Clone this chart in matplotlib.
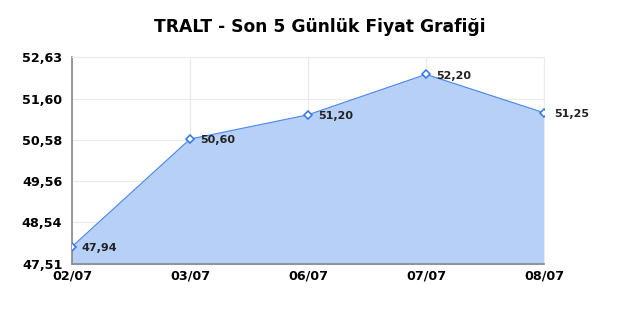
import matplotlib as mpl
mpl.use("Agg")
import matplotlib.pyplot as plt

# data
dates = ["02/07", "03/07", "06/07", "07/07", "08/07"]
prices = [47.94, 50.60, 51.20, 52.20, 51.25]
y_ticks = [47.51, 48.54, 49.56, 50.58, 51.60, 52.63]

fig = plt.figure(figsize=(6.4, 3.2), dpi=100)
ax = fig.add_axes([0.1125, 0.175, 0.7375, 0.647])

xs = list(range(len(dates)))
ax.fill_between(xs, y_ticks[0], prices, color="#b7d0f8", zorder=1)
ax.plot(xs, prices, color="#4a88ec", lw=0.8, marker="D", ms=4,
        mfc="white", mec="#2f74e8", mew=1.1, zorder=3)

for x, p in zip(xs, prices):
    ax.annotate(f"{p:.2f}".replace(".", ","), (x, p), xytext=(7, -1),
                textcoords="offset points", va="center", ha="left",
                fontsize=8, fontweight="bold", color="#222222")

ax.set_xlim(xs[0], xs[-1])
ax.set_ylim(y_ticks[0], y_ticks[-1])
ax.set_xticks(xs)
ax.set_xticklabels(dates)
ax.set_yticks(y_ticks)
ax.set_yticklabels([f"{t:.2f}".replace(".", ",") for t in y_ticks])
ax.tick_params(length=0, labelsize=9.2)
ax.tick_params(axis="y", pad=7)
ax.tick_params(axis="x", pad=4)
for lbl in ax.get_xticklabels() + ax.get_yticklabels():
    lbl.set_fontweight("bold")
ax.grid(color="#ebebeb", lw=0.9, zorder=0)
ax.set_axisbelow(True)
for s in ["top", "right"]:
    ax.spines[s].set_color("#ebebeb")
for s in ["left", "bottom"]:
    ax.spines[s].set_color("#888888")
    ax.spines[s].set_linewidth(1.2)

fig.suptitle("TRALT - Son 5 Günlük Fiyat Grafiği", fontsize=12.3,
             fontweight="bold", y=0.945)
fig.savefig("out.png", dpi=100)
